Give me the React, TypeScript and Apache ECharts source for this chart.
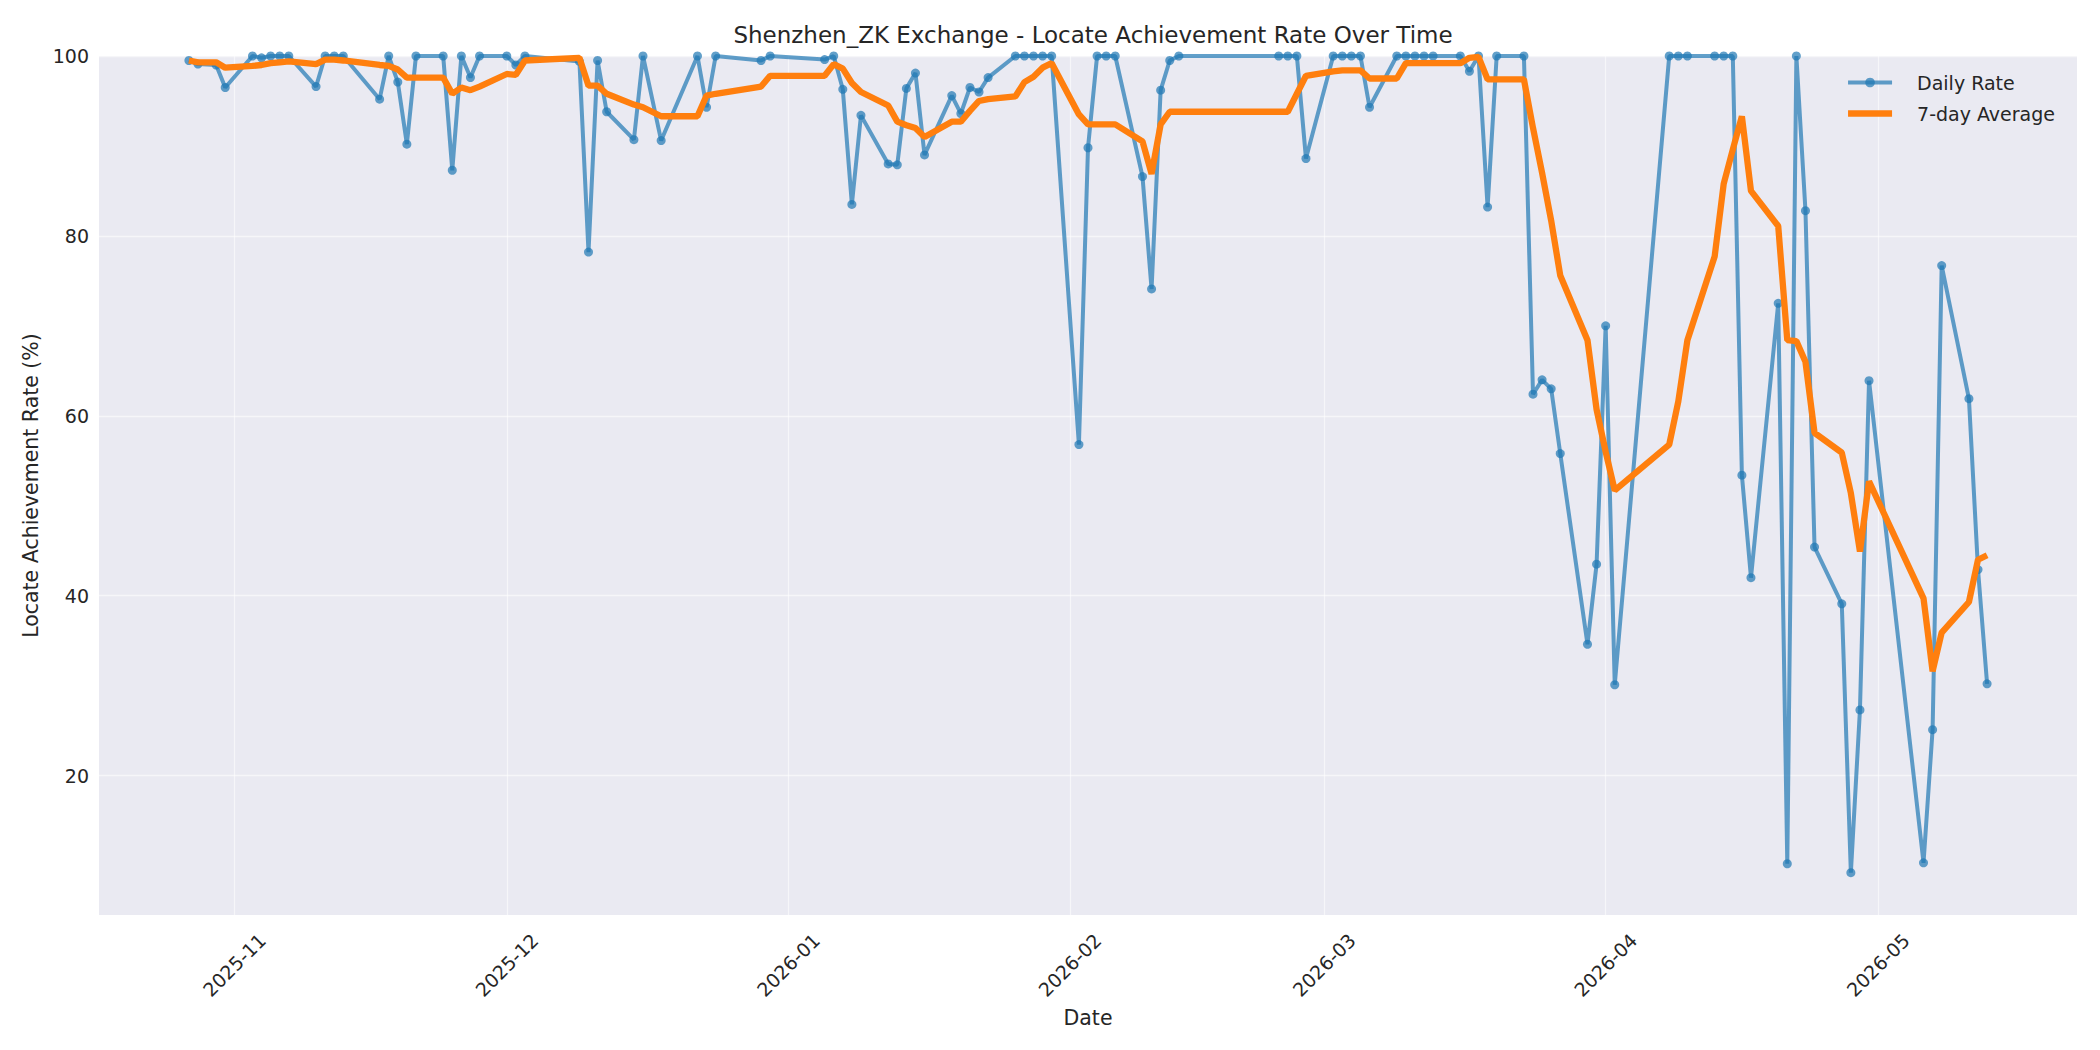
import * as echarts from "echarts";
import { useEffect, useRef } from "react";

// trading days with a reading
const dates = [
  "2025-10-27", "2025-10-28", "2025-10-30", "2025-10-31",
  "2025-11-03", "2025-11-04", "2025-11-05", "2025-11-06", "2025-11-07",
  "2025-11-10", "2025-11-11", "2025-11-12", "2025-11-13",
  "2025-11-17", "2025-11-18", "2025-11-19", "2025-11-20", "2025-11-21",
  "2025-11-24", "2025-11-25", "2025-11-26", "2025-11-27", "2025-11-28",
  "2025-12-01", "2025-12-02", "2025-12-03",
  "2025-12-09", "2025-12-10", "2025-12-11", "2025-12-12",
  "2025-12-15", "2025-12-16", "2025-12-18",
  "2025-12-22", "2025-12-23", "2025-12-24",
  "2025-12-29", "2025-12-30",
  "2026-01-05", "2026-01-06", "2026-01-07", "2026-01-08", "2026-01-09",
  "2026-01-12", "2026-01-13", "2026-01-14", "2026-01-15", "2026-01-16",
  "2026-01-19", "2026-01-20", "2026-01-21", "2026-01-22", "2026-01-23",
  "2026-01-26", "2026-01-27", "2026-01-28", "2026-01-29", "2026-01-30",
  "2026-02-02", "2026-02-03", "2026-02-04", "2026-02-05", "2026-02-06",
  "2026-02-09", "2026-02-10", "2026-02-11", "2026-02-12", "2026-02-13",
  "2026-02-24", "2026-02-25", "2026-02-26", "2026-02-27",
  "2026-03-02", "2026-03-03", "2026-03-04", "2026-03-05", "2026-03-06",
  "2026-03-09", "2026-03-10", "2026-03-11", "2026-03-12", "2026-03-13",
  "2026-03-16", "2026-03-17", "2026-03-18", "2026-03-19", "2026-03-20",
  "2026-03-23", "2026-03-24", "2026-03-25", "2026-03-26", "2026-03-27",
  "2026-03-30", "2026-03-31", "2026-04-01", "2026-04-02",
  "2026-04-08", "2026-04-09", "2026-04-10",
  "2026-04-13", "2026-04-14", "2026-04-15", "2026-04-16", "2026-04-17",
  "2026-04-20", "2026-04-21", "2026-04-22", "2026-04-23", "2026-04-24",
  "2026-04-27", "2026-04-28", "2026-04-29", "2026-04-30",
  "2026-05-06", "2026-05-07", "2026-05-08",
  "2026-05-11", "2026-05-12", "2026-05-13",
];

const dailyRate = [
  99.5, 99.1, 99.0, 96.5,
  100, 99.8, 100, 100, 100,
  96.6, 100, 100, 100,
  95.2, 100, 97.1, 90.2, 100,
  100, 87.3, 100, 97.6, 100,
  100, 99.0, 100,
  99.4, 78.2, 99.5, 93.8,
  90.7, 100, 90.6,
  100, 94.3, 100,
  99.5, 100,
  99.6, 100, 96.3, 83.5, 93.4,
  88.0, 87.9, 96.4, 98.1, 89.0,
  95.6, 93.6, 96.5, 96.0, 97.6,
  100, 100, 100, 100, 100,
  56.8, 89.8, 100, 100, 100,
  86.6, 74.1, 96.2, 99.5, 100,
  100, 100, 100, 88.6,
  100, 100, 100, 100, 94.3,
  100, 100, 100, 100, 100,
  100, 98.3, 100, 83.2, 100,
  100, 62.4, 64.0, 63.0, 55.8,
  34.6, 43.5, 70.0, 30.1,
  100, 100, 100,
  100, 100, 100, 53.4, 42.0,
  72.5, 10.2, 100, 82.8, 45.4,
  39.1, 9.2, 27.3, 63.9,
  10.3, 25.1, 76.7,
  61.9, 42.9, 30.2,
];

const avg7 = [
  99.5, 99.3, 99.3, 98.7,
  98.9, 99.0, 99.2, 99.3, 99.4,
  99.1, 99.6, 99.6, 99.5,
  99.0, 98.9, 98.5, 97.6, 97.6,
  97.6, 95.8, 96.5, 96.2, 96.6,
  98.0, 97.9, 99.5,
  99.8, 96.7, 96.7, 95.8,
  94.6, 94.3, 93.3,
  93.3, 95.6, 95.8,
  96.6, 97.8,
  97.8, 99.1, 98.6, 97.0, 96.0,
  94.5, 92.7, 92.3, 92.0, 91.0,
  92.7, 92.7, 93.9, 95.0, 95.2,
  95.5, 97.1, 97.7, 98.7, 99.2,
  93.5, 92.4, 92.4, 92.4, 92.4,
  90.5, 86.9, 92.4, 93.8, 93.8,
  93.8, 93.8, 95.8, 97.8,
  98.3, 98.4, 98.4, 98.4, 97.5,
  97.5, 99.2, 99.2, 99.2, 99.2,
  99.2, 99.8, 99.9, 97.4, 97.4,
  97.4, 92.0, 87.0, 81.7, 75.6,
  68.4, 60.7, 56.0, 51.7,
  56.8, 61.6, 68.4,
  77.7, 85.8, 89.6, 93.3, 85.0,
  81.1, 68.4, 68.3, 66.0, 58.1,
  55.9, 51.4, 44.9, 52.7,
  39.7, 31.6, 35.9,
  39.3, 44.0, 44.5,
];

const monthTicks = [
  "2025-11-01", "2025-12-01", "2026-01-01", "2026-02-01",
  "2026-03-01", "2026-04-01", "2026-05-01",
];
const yTicks = [20, 40, 60, 80, 100];

const toTime = (s: string) => {
  const [y, m, d] = s.split("-").map(Number);
  return new Date(y, m - 1, d).getTime();
};

const TEXT = "#262626";
const FONT = "DejaVu Sans";
const BLUE = "#1f77b4";
const ORANGE = "#ff7f0e";
const GRID_LINE = { show: true, lineStyle: { color: "rgba(255,255,255,0.55)", width: 1.3 } };

export default function App() {
  const chartRef = useRef<HTMLDivElement>(null);

  useEffect(() => {
    document.body.style.margin = "0";
    if (!chartRef.current) return;
    const chart = echarts.init(chartRef.current, undefined, { renderer: "svg" });

    const times = dates.map(toTime);
    const first = times[0];
    const last = times[times.length - 1];
    const pad = (last - first) * 0.05;
    const monthTs = monthTicks.map(toTime);

    chart.setOption({
      animation: false,
      backgroundColor: "#ffffff",
      textStyle: { fontFamily: FONT },
      title: {
        text: "Shenzhen_ZK Exchange - Locate Achievement Rate Over Time",
        left: 1088,
        top: 18,
        textAlign: "center",
        textStyle: { fontFamily: FONT, fontSize: 23, fontWeight: "normal", color: TEXT },
      },
      legend: {
        orient: "vertical",
        right: 40,
        top: 68,
        itemWidth: 44,
        itemHeight: 12,
        itemGap: 12,
        textStyle: { fontFamily: FONT, fontSize: 19, color: TEXT, padding: [0, 0, 0, 20] },
        data: [
          { name: "Daily Rate", lineStyle: { width: 4 } },
          { name: "7-day Average", lineStyle: { width: 6.3 }, itemStyle: { opacity: 0 } },
        ],
      },
      grid: {
        left: 99,
        right: 23,
        top: 56,
        bottom: 135,
        show: true,
        backgroundColor: "#EAEAF2",
        borderWidth: 0,
      },
      xAxis: {
        type: "value",
        min: first - pad,
        max: last + pad,
        name: "Date",
        nameLocation: "middle",
        nameGap: 92,
        nameTextStyle: { fontFamily: FONT, fontSize: 20.5, color: TEXT },
        axisLine: { show: false },
        axisTick: { show: false, customValues: monthTs },
        axisLabel: {
          customValues: monthTs,
          rotate: 45,
          align: "center",
          verticalAlign: "middle",
          margin: 50,
          fontFamily: FONT,
          fontSize: 19,
          color: TEXT,
          formatter: (v: number) => {
            const d = new Date(v);
            return `${d.getFullYear()}-${String(d.getMonth() + 1).padStart(2, "0")}`;
          },
        },
        splitLine: GRID_LINE,
      },
      yAxis: {
        type: "value",
        min: 4.5,
        max: 100,
        name: "Locate Achievement Rate (%)",
        nameLocation: "middle",
        nameGap: 56,
        nameTextStyle: { fontFamily: FONT, fontSize: 20.5, color: TEXT },
        axisLine: { show: false },
        axisTick: { show: false, customValues: yTicks },
        axisLabel: {
          customValues: yTicks,
          margin: 10,
          fontFamily: FONT,
          fontSize: 19,
          color: TEXT,
        },
        splitLine: GRID_LINE,
      },
      series: [
        {
          name: "Daily Rate",
          type: "line",
          data: times.map((t, i) => [t, dailyRate[i]]),
          symbol: "circle",
          symbolSize: 9,
          showSymbol: true,
          lineStyle: { width: 4, color: BLUE, opacity: 0.7 },
          itemStyle: { color: BLUE, opacity: 0.7 },
          z: 2,
        },
        {
          name: "7-day Average",
          type: "line",
          data: times.map((t, i) => [t, avg7[i]]),
          symbol: "none",
          lineStyle: { width: 6.3, color: ORANGE },
          itemStyle: { color: ORANGE },
          z: 3,
        },
      ],
    });

    return () => chart.dispose();
  }, []);

  return <div ref={chartRef} style={{ width: 2100, height: 1050 }} />;
}
